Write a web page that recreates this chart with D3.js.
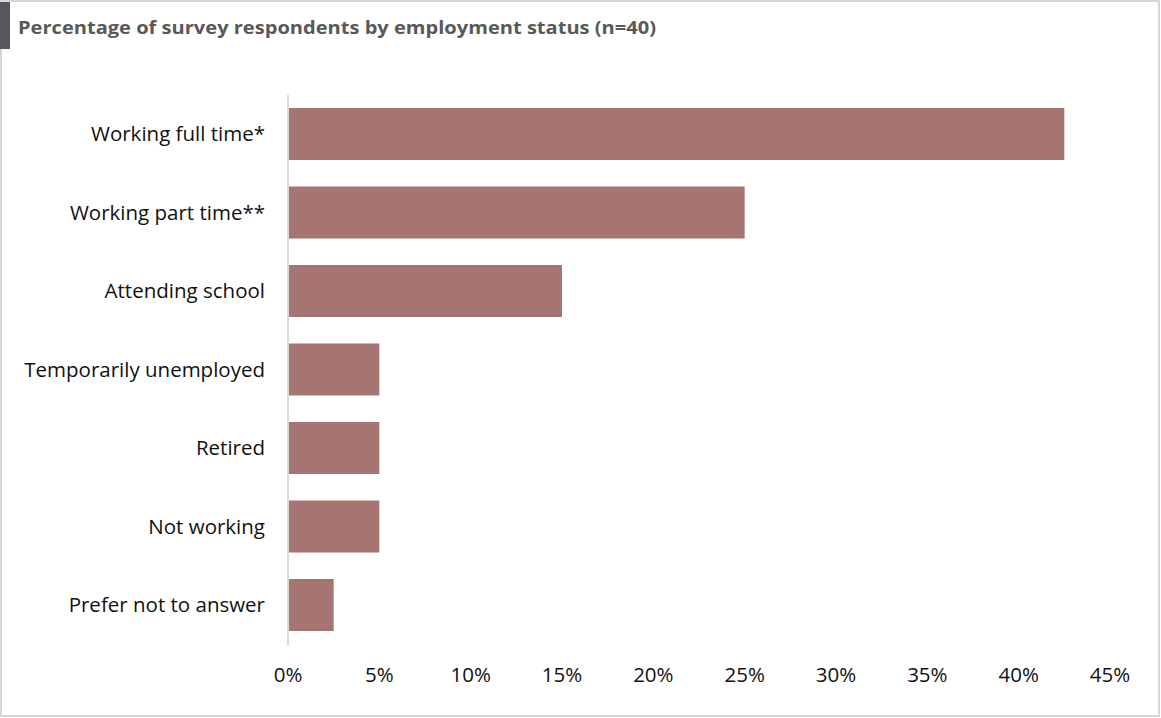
<!DOCTYPE html>
<head>
    <style>
        body { margin: 0; background: #fff; }
        svg { display: block; }
        text { font-family: "Open Sans", sans-serif; }
    </style>
</head>
<body>
    <script src="https://d3js.org/d3.v7.min.js"></script>
    <script>
        var categories = ['Working full time*', 'Working part time**', 'Attending school',
                          'Temporarily unemployed', 'Retired', 'Not working', 'Prefer not to answer'];
        var percents = [42.5, 25, 15, 5, 5, 5, 2.5];
        var tickValues = [0, 5, 10, 15, 20, 25, 30, 35, 40, 45];
        var title = 'Percentage of survey respondents by employment status (n=40)';

        var width = 1161, height = 718;
        var svg = d3.select('body')
                    .append('svg')
                    .attr('width', width)
                    .attr('height', height);

        // outer frame
        svg.append('rect')
           .attr('x', 1).attr('y', 1)
           .attr('width', width - 3).attr('height', height - 3)
           .attr('fill', 'none')
           .attr('stroke', '#c8c8c8')
           .attr('stroke-width', 1.5);

        // title
        svg.append('rect')
           .attr('x', 0).attr('y', 2)
           .attr('width', 10).attr('height', 47)
           .attr('fill', '#54575c');
        svg.append('text')
           .attr('x', 18).attr('y', 34)
           .attr('font-size', 17.5)
           .attr('font-weight', 'bold')
           .attr('fill', '#595959')
           .attr('textLength', 638)
           .attr('lengthAdjust', 'spacingAndGlyphs')
           .text(title);

        var x = d3.scaleLinear().domain([0, 45]).range([288, 1110]);
        var y = d3.scaleBand().domain(categories)
                  .range([95, 644])
                  .paddingInner(0.3376)
                  .paddingOuter(0.1656);

        svg.selectAll('rect.bar')
           .data(percents)
           .enter()
           .append('rect')
           .attr('class', 'bar')
           .attr('x', x(0))
           .attr('y', (d, i) => y(categories[i]))
           .attr('width', d => x(d) - x(0))
           .attr('height', y.bandwidth())
           .attr('fill', '#a67572');

        // y axis line
        svg.append('line')
           .attr('x1', x(0)).attr('x2', x(0))
           .attr('y1', 95).attr('y2', 645)
           .attr('stroke', '#d9d9d9')
           .attr('stroke-width', 2);

        // category labels
        svg.selectAll('text.cat')
           .data(categories)
           .enter()
           .append('text')
           .attr('class', 'cat')
           .attr('x', 265)
           .attr('y', d => y(d) + y.bandwidth() / 2)
           .attr('dy', '0.35em')
           .attr('text-anchor', 'end')
           .attr('font-size', 20.5)
           .attr('fill', '#111')
           .text(d => d);

        // x tick labels
        svg.selectAll('text.tick')
           .data(tickValues)
           .enter()
           .append('text')
           .attr('class', 'tick')
           .attr('x', d => x(d))
           .attr('y', 682)
           .attr('text-anchor', 'middle')
           .attr('font-size', 20.5)
           .attr('fill', '#111')
           .text(d => d + '%');
    </script>
</body>
